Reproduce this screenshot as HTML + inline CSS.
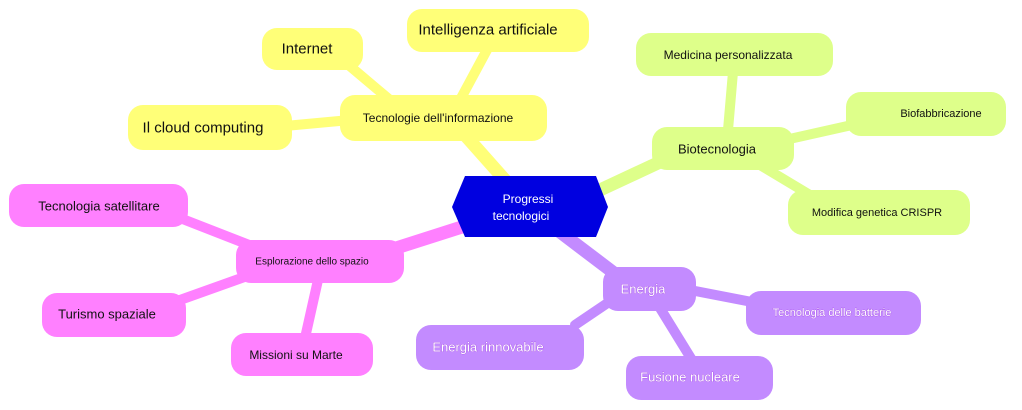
<!DOCTYPE html>
<html><head><meta charset="utf-8"><style>body{margin:0;background:#fff}svg{display:block}text{font-family:"Liberation Sans",sans-serif;text-anchor:middle;dominant-baseline:central}</style></head><body>
<svg width="1022" height="410" viewBox="0 0 1022 410">
<g stroke-linecap="round" fill="none">
<g stroke="#ffff78"><path d="M505 180 L465 135" stroke-width="13"/><path d="M390 100 L345 62" stroke-width="10"/><path d="M460 100 L488 48" stroke-width="10"/><path d="M350 120 L285 126" stroke-width="10"/></g>
<g stroke="#deff8a"><path d="M600 190 L675 155" stroke-width="13"/><path d="M728 130 L733 72" stroke-width="10"/><path d="M785 140 L852 125" stroke-width="10"/><path d="M760 165 L815 198" stroke-width="10"/></g>
<g stroke="#ff80ff"><path d="M465 226 L390 250" stroke-width="13"/><path d="M262 250 L180 218" stroke-width="10"/><path d="M250 275 L180 300" stroke-width="10"/><path d="M318 280 L305 338" stroke-width="10"/></g>
<g stroke="#c38bff"><path d="M560 232 L618 276" stroke-width="13"/><path d="M690 290 L752 302" stroke-width="10"/><path d="M612 300 L575 325" stroke-width="10"/><path d="M660 308 L692 360" stroke-width="10"/></g>
</g>
<polygon points="465,176 596,176 608,207 596,237 465,237 452,207" fill="#0000e0"/>
<text x="528" y="199" font-size="12" fill="#fff">Progressi</text>
<text x="521" y="216" font-size="12" fill="#fff">tecnologici</text>
<g fill="#ffff78">
<rect x="340" y="95" width="207" height="46" rx="15"/><rect x="262" y="28" width="101" height="42" rx="15"/><rect x="407" y="9" width="182" height="43" rx="15"/><rect x="128" y="105" width="164" height="45" rx="15"/></g>
<g fill="#deff8a">
<rect x="652" y="127" width="142" height="43" rx="15"/><rect x="636" y="33" width="197" height="43" rx="15"/><rect x="846" y="92" width="160" height="44" rx="15"/><rect x="788" y="190" width="182" height="45" rx="15"/></g>
<g fill="#ff80ff">
<rect x="236" y="240" width="168" height="43" rx="15"/><rect x="9" y="184" width="179" height="43" rx="15"/><rect x="42" y="293" width="144" height="44" rx="15"/><rect x="231" y="333" width="142" height="43" rx="15"/></g>
<g fill="#c38bff">
<rect x="603" y="267" width="93" height="44" rx="15"/><rect x="746" y="291" width="175" height="44" rx="15"/><rect x="416" y="325" width="168" height="45" rx="15"/><rect x="626" y="356" width="147" height="44" rx="15"/></g>
<g fill="#111">
<text x="438" y="118" font-size="12">Tecnologie dell'informazione</text>
<text x="307" y="49" font-size="15">Internet</text>
<text x="488" y="30" font-size="15">Intelligenza artificiale</text>
<text x="203" y="128" font-size="15">Il cloud computing</text>
<text x="717" y="149" font-size="13">Biotecnologia</text>
<text x="728" y="55" font-size="12">Medicina personalizzata</text>
<text x="941" y="114" font-size="11">Biofabbricazione</text>
<text x="877" y="213" font-size="11">Modifica genetica CRISPR</text>
<text x="312" y="262" font-size="10">Esplorazione dello spazio</text>
<text x="99" y="206" font-size="13">Tecnologia satellitare</text>
<text x="107" y="314" font-size="13">Turismo spaziale</text>
<text x="296" y="355" font-size="12">Missioni su Marte</text>
</g>
<g fill="#fff" stroke="#a040e0" stroke-width="0.6" paint-order="stroke">
<text x="643" y="289" font-size="13">Energia</text>
<text x="832" y="313" font-size="11">Tecnologia delle batterie</text>
<text x="488" y="347" font-size="13">Energia rinnovabile</text>
<text x="690" y="377" font-size="13">Fusione nucleare</text>
</g>
</svg>
</body></html>
